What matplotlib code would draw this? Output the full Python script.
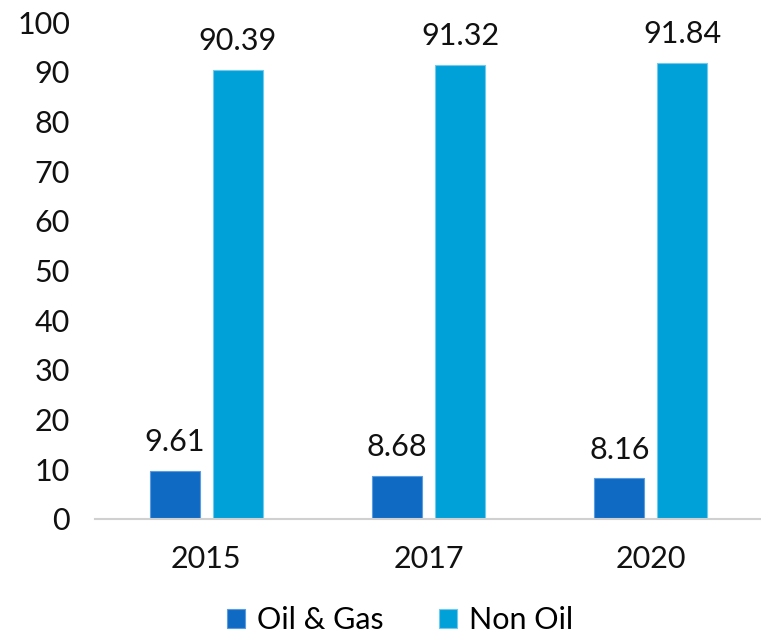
import matplotlib
matplotlib.use("Agg")
import matplotlib.pyplot as plt
import numpy as np

years = ["2015", "2017", "2020"]
oil_gas = [9.61, 8.68, 8.16]
non_oil = [90.39, 91.32, 91.84]
series_names = ["Oil & Gas", "Non Oil"]

plt.rcParams['font.family'] = ['Lato', 'DejaVu Sans']
fig = plt.figure(figsize=(7.61, 6.38), dpi=100)
ax = fig.add_axes([95/761, 1 - 519/638, (762 - 95)/761, (519 - 22)/638])

x = np.arange(len(years))
w = 0.225
gap = 0.058
c1 = "#0F6AC4"
c2 = "#00A0D8"
b1 = ax.bar(x - (w + gap) / 2, oil_gas, w, color=c1, edgecolor="#5b9be0", linewidth=0.8, label=series_names[0])
b2 = ax.bar(x + (w + gap) / 2, non_oil, w, color=c2, edgecolor="#6fcaee", linewidth=0.8, label=series_names[1])
for bars, vals in ((b1, oil_gas), (b2, non_oil)):
    for r, v in zip(bars, vals):
        ax.text(r.get_x() + r.get_width() / 2, v + 3, f"{v:.2f}", ha="center", va="bottom", fontsize=22, color="#111111")

ax.set_xlim(-0.5, 2.5)
ax.set_ylim(0, 100)
ax.set_yticks(range(0, 101, 10))
ax.set_xticks(x)
ax.set_xticklabels(years)
ax.tick_params(axis="both", length=0, labelsize=22, colors="#111111")
ax.tick_params(axis="y", pad=18)
ax.tick_params(axis="x", pad=19)
for s in ["top", "right", "left"]:
    ax.spines[s].set_visible(False)
ax.spines["bottom"].set_color("#d0d0d0")
ax.spines["bottom"].set_linewidth(1.5)

fig.legend(handles=[b1, b2], labels=series_names, loc="center", bbox_to_anchor=(400/761, 1 - 620/638),
           ncol=2, frameon=False, fontsize=22, handlelength=0.6, handleheight=0.6, handletextpad=0.4, columnspacing=1.8)
fig.savefig("out.png", dpi=100)
